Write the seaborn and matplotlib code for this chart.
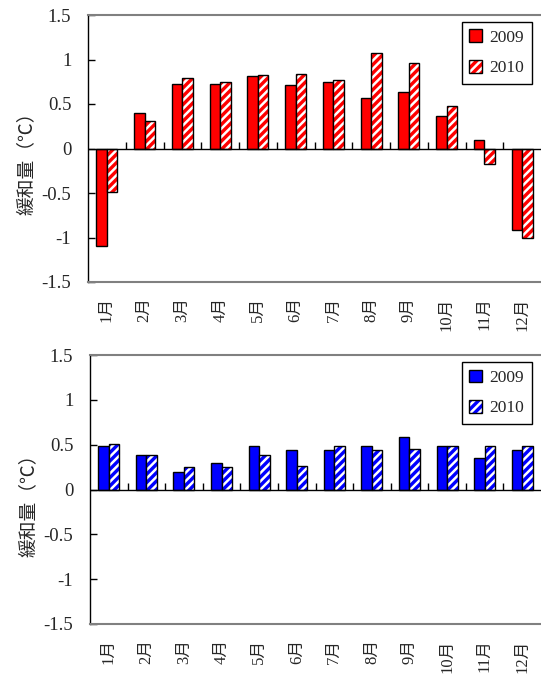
import numpy as np
import pandas as pd
import matplotlib
matplotlib.use("Agg")
import matplotlib.pyplot as plt
import seaborn as sns
from matplotlib.patches import Patch

# Monthly mitigation amounts (°C), two years, two scenarios
months = [f"{i}月" for i in range(1, 13)]
years = ["2009", "2010"]
upper_2009 = [-1.10, 0.40, 0.73, 0.73, 0.81, 0.71, 0.75, 0.57, 0.64, 0.36, 0.09, -0.92]
upper_2010 = [-0.49, 0.31, 0.79, 0.75, 0.83, 0.84, 0.77, 1.07, 0.96, 0.48, -0.17, -1.01]
lower_2009 = [0.48, 0.39, 0.19, 0.30, 0.48, 0.44, 0.44, 0.49, 0.58, 0.49, 0.35, 0.44]
lower_2010 = [0.51, 0.39, 0.25, 0.25, 0.39, 0.26, 0.48, 0.44, 0.45, 0.48, 0.48, 0.48]
y_ticks = [-1.5, -1, -0.5, 0, 0.5, 1, 1.5]
y_label = "緩和量（℃）"

sns.set_style("white")
plt.rcParams["font.family"] = ["Liberation Serif", "Noto Sans CJK JP"]
plt.rcParams["hatch.linewidth"] = 1.8

fig = plt.figure(figsize=(5.41, 6.75), dpi=100)
ax_top = fig.add_axes([88 / 541, 1 - 282 / 675, 1 - 88 / 541, 267 / 675])
ax_bot = fig.add_axes([90 / 541, 1 - 624 / 675, 1 - 90 / 541, 269 / 675])


def white_hatch(patch):
    if hasattr(patch, "set_hatchcolor"):
        patch.set_hatchcolor("white")
    else:
        patch._hatch_color = (1.0, 1.0, 1.0, 1.0)
        patch.stale = True


def draw(ax, v09, v10, color):
    df = pd.DataFrame({
        "month": months * 2,
        "year": [years[0]] * len(months) + [years[1]] * len(months),
        "value": v09 + v10,
    })
    sns.barplot(data=df, x="month", y="value", hue="year", hue_order=years,
                palette=[color, color], saturation=1, width=0.56,
                edgecolor="black", linewidth=1.0, ax=ax, legend=False,
                errorbar=None, zorder=3)
    for bar in ax.containers[1]:
        bar.set_hatch("////")
        white_hatch(bar)

    ax.axhline(0, color="black", lw=1.0, zorder=4)
    ax.vlines(np.arange(0.5, len(months) - 1, 1), 0, 0.07, color="black",
              lw=1.0, zorder=4)

    ax.set_xlim(-0.5, len(months) - 0.5)
    ax.set_ylim(-1.5, 1.5)
    ax.set_yticks(y_ticks, labels=[f"{v:g}" for v in y_ticks])
    ax.set_xticks(range(len(months)), labels=months, rotation=90)
    ax.tick_params(axis="y", direction="in", length=5, width=1, left=True,
                   labelsize=13.5, pad=12, color="black")
    ax.tick_params(axis="x", length=0, labelsize=12, pad=11)
    ax.set_xlabel("")
    ax.set_ylabel(y_label, fontsize=13.5)
    ax.yaxis.set_label_coords(-0.115, 0.46)

    for side in ("top", "bottom"):
        ax.spines[side].set_color("#808080")
        ax.spines[side].set_linewidth(1.5)
    ax.spines["left"].set_color("black")
    ax.spines["left"].set_linewidth(1.0)
    ax.spines["right"].set_visible(False)

    solid = Patch(facecolor=color, edgecolor="black", linewidth=1.0)
    striped = Patch(facecolor=color, edgecolor="black", linewidth=1.0, hatch="////")
    white_hatch(striped)
    leg = ax.legend([solid, striped], years, loc="upper right",
                    bbox_to_anchor=(0.98, 0.975), borderaxespad=0,
                    fancybox=False, edgecolor="black", framealpha=1,
                    fontsize=12.5, handlelength=0.75, handleheight=0.75,
                    handletextpad=0.4, labelspacing=0.8, borderpad=0.45)
    leg.get_frame().set_linewidth(1.0)


draw(ax_top, upper_2009, upper_2010, "#ff0000")
draw(ax_bot, lower_2009, lower_2010, "#0000ff")

fig.savefig("out.png", dpi=100)
